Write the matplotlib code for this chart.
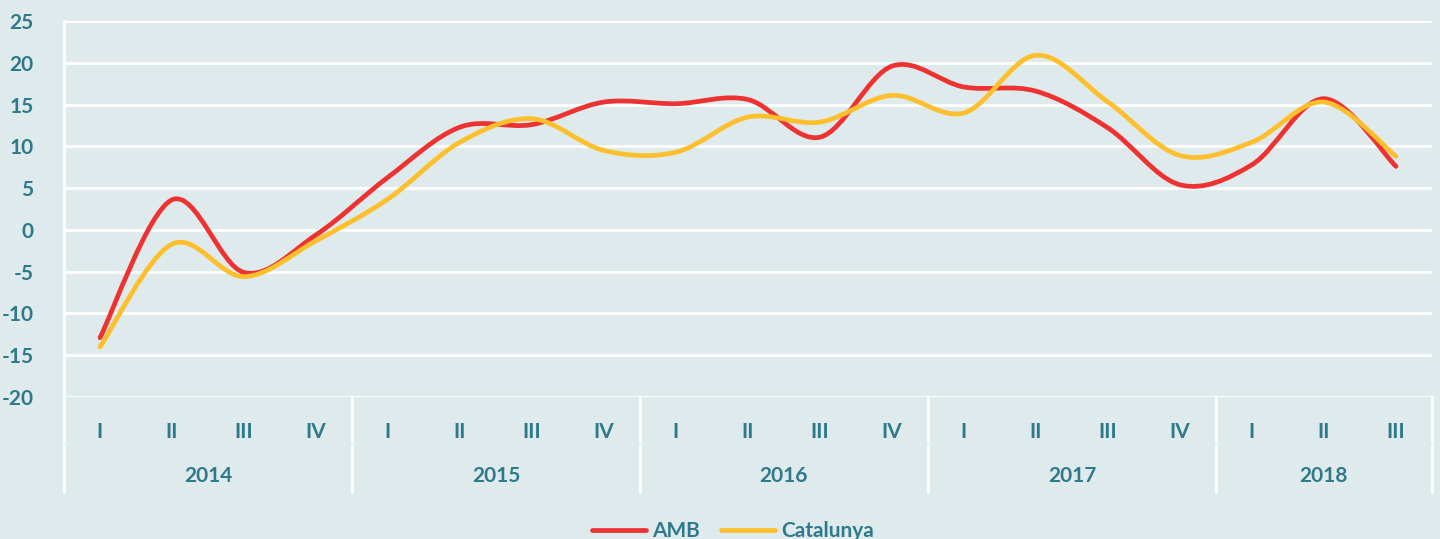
import numpy as np
import matplotlib.pyplot as plt
from matplotlib.path import Path
from matplotlib.patches import PathPatch
import matplotlib.transforms as mtransforms

# data
quarters = ['I', 'II', 'III', 'IV'] * 4 + ['I', 'II', 'III']
years = ['2014', '2015', '2016', '2017', '2018']
year_sizes = [4, 4, 4, 4, 3]
amb = [-12.9, 3.6, -5.1, -0.6, 6.3, 12.3, 12.6, 15.3, 15.1, 15.6,
       11.1, 19.6, 17.1, 16.6, 12.2, 5.4, 7.8, 15.7, 7.6]
catalunya = [-14.0, -1.7, -5.6, -1.3, 3.7, 10.5, 13.3, 9.5, 9.3, 13.5,
             12.9, 16.1, 14.0, 20.9, 15.3, 8.9, 10.5, 15.3, 8.8]

bg = '#DFEAEC'
txt = '#2F7A8A'
red = '#EE3131'
yellow = '#FDBF2B'


def smooth_path(x, y):
    # Excel-style smoothed line: cubic bezier with catmull-rom control points
    pts = np.column_stack([x, y]).astype(float)
    n = len(pts)
    verts = [pts[0]]
    codes = [Path.MOVETO]
    for i in range(n - 1):
        p0 = pts[max(i - 1, 0)]
        p1 = pts[i]
        p2 = pts[i + 1]
        p3 = pts[min(i + 2, n - 1)]
        c1 = p1 + (p2 - p0) / 6.0
        c2 = p2 - (p3 - p1) / 6.0
        verts += [c1, c2, p2]
        codes += [Path.CURVE4] * 3
    return Path(verts, codes)


plt.rcParams['font.family'] = ['Lato', 'DejaVu Sans']
plt.rcParams['axes.unicode_minus'] = False

fig = plt.figure(figsize=(14.4, 5.39), dpi=100, facecolor=bg)
ax = fig.add_axes([64 / 1440, 1 - 397 / 539, 1368 / 1440, 376 / 539])
ax.set_facecolor(bg)

x = np.arange(len(quarters))
for series, color, label in [(amb, red, 'AMB'), (catalunya, yellow, 'Catalunya')]:
    patch = PathPatch(smooth_path(x, series), facecolor='none', edgecolor=color,
                      lw=3.4, capstyle='round', joinstyle='round', zorder=3)
    ax.add_patch(patch)
    ax.plot([], [], color=color, lw=3.4, solid_capstyle='round', label=label)

ax.set_xlim(-0.5, len(quarters) - 0.5)
ax.set_ylim(-20, 25)
ax.set_yticks(np.arange(-20, 26, 5))
ax.grid(axis='y', color='white', lw=2)
ax.set_axisbelow(True)
for s in ['top', 'right', 'bottom']:
    ax.spines[s].set_visible(False)
ax.spines['left'].set_color('white')
ax.spines['left'].set_linewidth(2)

ax.tick_params(axis='y', length=0, pad=22, labelsize=15, labelcolor=txt)
for lab in ax.get_yticklabels():
    lab.set_fontweight('bold')

ax.set_xticks(x)
ax.set_xticklabels(quarters, fontsize=15, fontweight='bold', color=txt)
ax.tick_params(axis='x', length=0, pad=18)

# category group separators and year labels
trans = mtransforms.blended_transform_factory(ax.transData, ax.transAxes)
bottom = -95 / 376
edges = np.concatenate([[0], np.cumsum(year_sizes)]) - 0.5
for e in edges:
    ax.plot([e, e], [0, bottom], transform=trans, color='white', lw=2, clip_on=False)
ax.plot([-0.5, len(quarters) - 0.5], [-47 / 376] * 2, transform=trans,
        color='#E3EDEE', lw=1, clip_on=False)
for i, yr in enumerate(years):
    ax.text((edges[i] + edges[i + 1]) / 2, -79 / 376, yr, transform=trans,
            ha='center', va='center', fontsize=15, fontweight='bold', color=txt)

leg = fig.legend(loc='center', bbox_to_anchor=(733 / 1440, 1 - 531 / 539), ncol=2,
                 frameon=False, fontsize=15, handlelength=2.6, columnspacing=1.0,
                 handletextpad=0.3)
for t in leg.get_texts():
    t.set_color(txt)
    t.set_fontweight('bold')

fig.savefig('out.png', dpi=100, facecolor=bg)
